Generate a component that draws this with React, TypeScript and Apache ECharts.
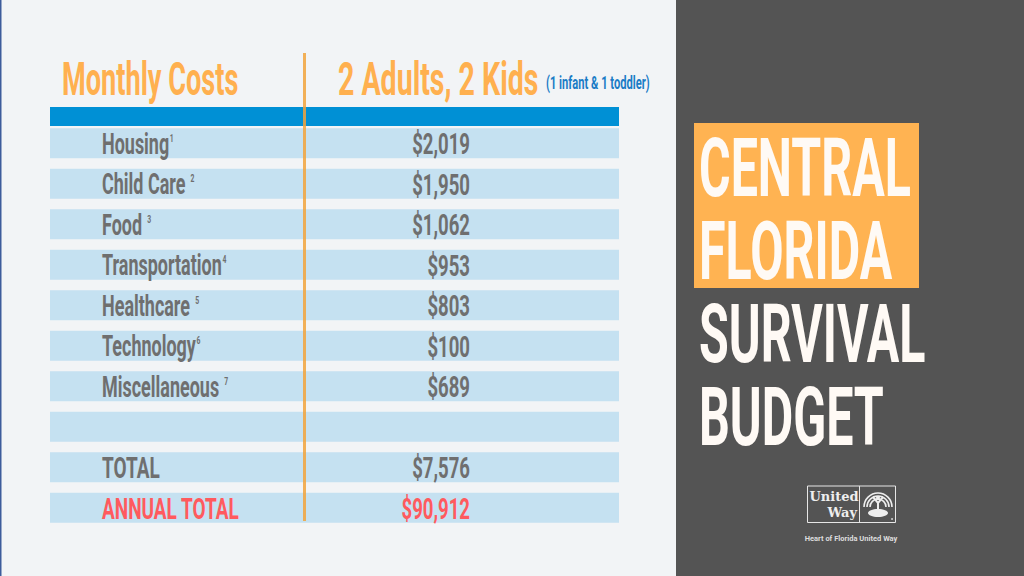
import React, { useEffect, useRef } from 'react';
import * as echarts from 'echarts';

// ---- data ----
const categories = ['Housing', 'Child Care ', 'Food ', 'Transportation', 'Healthcare ', 'Technology', 'Miscellaneous ', '', 'TOTAL', 'ANNUAL TOTAL'];
const footnotes = ['1', '2', '3', '4', '5', '6', '7', '', '', ''];
const monthlyCosts: (number | null)[] = [2019, 1950, 1062, 953, 803, 100, 689, null, 7576, 90912];
const headerLabels = ['Monthly Costs', '2 Adults, 2 Kids', '(1 infant & 1 toddler)'];
const titleLines = ['CENTRAL', 'FLORIDA', 'SURVIVAL', 'BUDGET'];
const logoWords = ['United', 'Way'];
const orgName = 'Heart of Florida United Way';

const FONT = 'Roboto, "Liberation Sans", sans-serif';
const GRAY = '#6f6f6f';
const RED = '#ff5a5e';
const ORANGE = '#ffb04f';
const ROW = '#c5e1f1';

const fmt = (v: number) => '$' + v.toLocaleString('en-US');

export default function App() {
  const ref = useRef<HTMLDivElement>(null);
  useEffect(() => {
    if (!ref.current) return;
    const chart = echarts.init(ref.current, null, { renderer: 'svg' });

    const renderItem = (params: any, api: any) => {
      const idx = params.dataIndex;
      const start = api.coord([0, idx]);
      const end = api.coord([api.value(0), idx]);
      const bandH = api.size([0, 1])[1];
      const h = bandH * 0.74;
      const y = start[1];
      const v = monthlyCosts[idx];
      const isRed = idx === categories.length - 1;
      const color = isRed ? RED : GRAY;
      const children: any[] = [
        {
          type: 'rect',
          shape: { x: start[0], y: y - h / 2, width: end[0] - start[0], height: h },
          style: { fill: ROW },
        },
      ];
      if (categories[idx]) {
        const note = footnotes[idx];
        const upper = categories[idx] === categories[idx].toUpperCase();
        children.push({
          type: 'text',
          x: start[0] + 52,
          y: y + 1,
          scaleX: upper ? 0.655 : 0.62,
          style: {
            text: note ? `{l|${categories[idx]}}{s|${note}}` : `{l|${categories[idx]}}`,
            rich: {
              l: { fontSize: 29, fontWeight: 'bold', fontFamily: FONT, fill: color },
              s: { fontSize: 11, fontWeight: 'bold', fontFamily: FONT, fill: color, verticalAlign: 'top', padding: [3, 0, 0, 1] },
            },
            verticalAlign: 'middle',
            align: 'left',
          },
        });
      }
      if (v != null) {
        children.push({
          type: 'text',
          x: start[0] + 420,
          y: y + 1,
          scaleX: 0.64,
          style: {
            text: fmt(v),
            fontSize: 29,
            fontWeight: 'bold',
            fontFamily: FONT,
            fill: color,
            align: 'right',
            verticalAlign: 'middle',
          },
        });
      }
      return { type: 'group', children };
    };

    const titleText = (t: string, i: number) => ({
      type: 'text',
      x: 699,
      y: 168 + i * 83,
      scaleX: 0.59,
      style: {
        text: t,
        fontSize: 82,
        fontWeight: 'bold',
        fontFamily: FONT,
        fill: '#fffaf5',
        verticalAlign: 'middle',
        align: 'left',
      },
    });

    chart.setOption({
      animation: false,
      backgroundColor: '#f2f4f6',
      grid: { left: 50, right: 405, top: 123, bottom: 48 },
      xAxis: { type: 'value', min: 0, max: 1, show: false },
      yAxis: { type: 'category', data: categories, inverse: true, show: false },
      series: [
        {
          type: 'custom',
          renderItem,
          encode: { x: 0, y: 1 },
          data: categories.map((_, i) => [1, i, monthlyCosts[i] ?? 0]),
          z: 2,
        },
      ],
      graphic: [
        { type: 'rect', shape: { x: 0, y: 0, width: 1.5, height: 576 }, style: { fill: '#3d5c9b' } },
        { type: 'rect', shape: { x: 50, y: 107, width: 569, height: 19 }, style: { fill: '#0090d5' } },
        {
          type: 'text', x: 62, y: 79, scaleX: 0.59,
          style: { text: headerLabels[0], fontSize: 46, fontWeight: 'bold', fontFamily: FONT, fill: ORANGE, verticalAlign: 'middle' },
        },
        {
          type: 'text', x: 338, y: 79, scaleX: 0.62,
          style: { text: headerLabels[1], fontSize: 46, fontWeight: 'bold', fontFamily: FONT, fill: ORANGE, verticalAlign: 'middle' },
        },
        {
          type: 'text', x: 546, y: 83, scaleX: 0.62,
          style: { text: headerLabels[2], fontSize: 18, fontWeight: 'bold', fontFamily: FONT, fill: '#1b7cc6', verticalAlign: 'middle' },
        },
        {
          type: 'rect', z: 20, shape: { x: 303, y: 53, width: 3, height: 468 },
          style: { fill: '#f2a33c', opacity: 0.85 },
        },
        // right panel
        { type: 'rect', shape: { x: 676, y: 0, width: 348, height: 576 }, style: { fill: '#545454' } },
        { type: 'rect', shape: { x: 694, y: 123, width: 225, height: 165 }, style: { fill: '#ffb352' } },
        ...titleLines.map(titleText),
        // logo
        { type: 'rect', shape: { x: 807.5, y: 486, width: 88, height: 36.5 }, style: { fill: 'none', stroke: '#e6e6e6', lineWidth: 1 } },
        { type: 'line', shape: { x1: 859.5, y1: 486, x2: 859.5, y2: 522.5 }, style: { stroke: '#e6e6e6', lineWidth: 1 } },
        {
          type: 'text', x: 834, y: 496,
          style: { text: logoWords[0], fontSize: 13, fontFamily: '"DejaVu Serif", serif', fontWeight: 'bold', fill: '#eeeeee', align: 'center', verticalAlign: 'middle' },
        },
        {
          type: 'text', x: 857, y: 512,
          style: { text: logoWords[1], fontSize: 13, fontFamily: '"DejaVu Serif", serif', fontWeight: 'bold', fill: '#eeeeee', align: 'right', verticalAlign: 'middle' },
        },
        ...[14, 11, 8].map((r) => ({
          type: 'arc',
          shape: { cx: 878, cy: 507, r, startAngle: Math.PI, endAngle: Math.PI * 2, clockwise: true },
          style: { stroke: '#eeeeee', lineWidth: 1.6, fill: 'none' },
        })),
        { type: 'circle', shape: { cx: 878, cy: 498, r: 2 }, style: { fill: '#eeeeee' } },
        { type: 'polyline', shape: { points: [[873, 497], [878, 503], [883, 497]] }, style: { stroke: '#eeeeee', lineWidth: 2, fill: 'none' } },
        { type: 'line', shape: { x1: 878, y1: 503, x2: 878, y2: 509 }, style: { stroke: '#eeeeee', lineWidth: 2 } },
        { type: 'ellipse', shape: { cx: 878, cy: 513, rx: 10, ry: 4 }, style: { fill: '#eeeeee' } },
        { type: 'circle', shape: { cx: 892, cy: 519, r: 0.8 }, style: { fill: '#eeeeee' } },
        {
          type: 'text', x: 851, y: 538,
          style: { text: orgName, fontSize: 7.5, fontWeight: 'bold', fontFamily: FONT, fill: '#dddddd', align: 'center', verticalAlign: 'middle' },
        },
      ],
    });
    return () => chart.dispose();
  }, []);
  return <div ref={ref} style={{ position: 'absolute', left: 0, top: 0, width: 1024, height: 576 }} />;
}
